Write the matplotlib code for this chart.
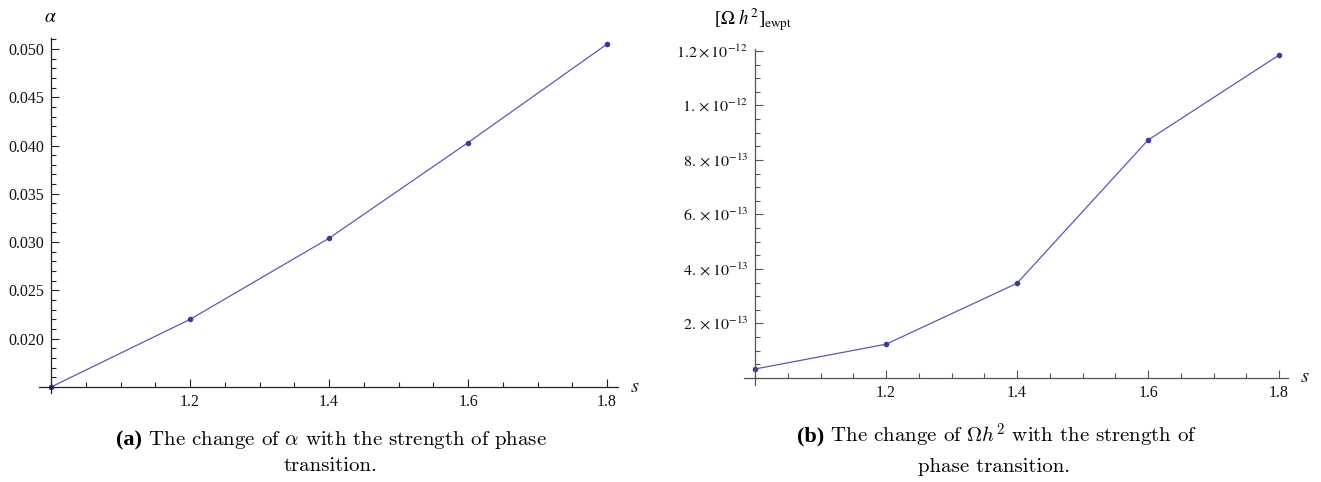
import matplotlib
matplotlib.use("Agg")
from matplotlib import pyplot as plt
from matplotlib.ticker import FixedLocator, FixedFormatter, MultipleLocator
import matplotlib.transforms as mtransforms

s = [1.0, 1.2, 1.4, 1.6, 1.8]
alpha = [0.0150, 0.0220, 0.0304, 0.0403, 0.0505]
omega_h2 = [3.3e-14, 1.24e-13, 3.475e-13, 8.73e-13, 1.185e-12]

s_ticks = [1.2, 1.4, 1.6, 1.8]
s_labels = ["1.2", "1.4", "1.6", "1.8"]
alpha_ticks = [0.020, 0.025, 0.030, 0.035, 0.040, 0.045, 0.050]
alpha_labels = ["0.020", "0.025", "0.030", "0.035", "0.040", "0.045", "0.050"]
omega_ticks = [2e-13, 4e-13, 6e-13, 8e-13, 1e-12, 1.2e-12]
omega_labels = [r"$2.\times10^{-13}$", r"$4.\times10^{-13}$", r"$6.\times10^{-13}$",
                r"$8.\times10^{-13}$", r"$1.\times10^{-12}$", r"$1.2\times10^{-12}$"]

plt.rcParams["font.family"] = "Liberation Serif"
plt.rcParams["mathtext.fontset"] = "stix"

W, H = 1321, 482
fig = plt.figure(figsize=(W / 100, H / 100), dpi=100)

line_c = "#5a5ab4"
dot_c = "#3a3a9c"


def px_axes(x0, x1, y0, y1):
    # pixel box (top-left origin) -> figure fraction
    return fig.add_axes([x0 / W, (H - y1) / H, (x1 - x0) / W, (y1 - y0) / H])


def style(ax, x0, y0, col):
    for k in ["top", "right"]:
        ax.spines[k].set_visible(False)
    ax.spines["left"].set_position(("data", x0))
    ax.spines["bottom"].set_position(("data", y0))
    for k in ["left", "bottom"]:
        ax.spines[k].set_color(col)
        ax.spines[k].set_linewidth(0.9)
    ax.patch.set_alpha(0)
    ax.tick_params(which="both", direction="in", colors=col, width=0.8, labelcolor="#111111",
                   labelsize=11.5, pad=5)
    ax.tick_params(which="major", length=6)
    ax.tick_params(which="minor", length=3.5)


# (a)
ax1 = px_axes(39, 618, 38, 393)
ax1.plot(s, alpha, "-", color=line_c, lw=0.9)
ax1.plot(s, alpha, "o", color=dot_c, ms=4, mec="none")
ax1.set_xlim(0.9827, 1.8158)
ax1.set_ylim(0.01438, 0.05113)
style(ax1, 1.0, 0.015, "#222222")
ax1.xaxis.set_major_locator(FixedLocator(s_ticks))
ax1.xaxis.set_major_formatter(FixedFormatter(s_labels))
ax1.xaxis.set_minor_locator(MultipleLocator(0.05))
ax1.yaxis.set_major_locator(FixedLocator(alpha_ticks))
ax1.yaxis.set_major_formatter(FixedFormatter(alpha_labels))
ax1.yaxis.set_minor_locator(MultipleLocator(0.001))
tr1 = mtransforms.blended_transform_factory(ax1.transAxes, ax1.transData)
ax1.annotate("$s$", xy=(1.0, 0.015), xycoords=tr1, xytext=(9, 0), textcoords="offset points",
             ha="left", va="center", fontsize=15, color="#222222")

# (b)
ax2 = px_axes(744, 1288, 49, 385)
ax2.plot(s, omega_h2, "-", color=line_c, lw=0.9)
ax2.plot(s, omega_h2, "o", color=dot_c, ms=4, mec="none")
ax2.set_xlim(0.9832, 1.8137)
ax2.set_ylim(-2.57e-14, 1.2073e-12)
style(ax2, 1.0, 0.0, "#555555")
ax2.xaxis.set_major_locator(FixedLocator(s_ticks))
ax2.xaxis.set_major_formatter(FixedFormatter(s_labels))
ax2.xaxis.set_minor_locator(MultipleLocator(0.05))
ax2.yaxis.set_major_locator(FixedLocator(omega_ticks))
ax2.yaxis.set_major_formatter(FixedFormatter(omega_labels))
ax2.yaxis.set_minor_locator(MultipleLocator(5e-14))
tr2 = mtransforms.blended_transform_factory(ax2.transAxes, ax2.transData)
ax2.annotate("$s$", xy=(1.0, 0.0), xycoords=tr2, xytext=(9, 0), textcoords="offset points",
             ha="left", va="center", fontsize=15, color="#222222")

# axis titles
fig.text(50 / W, 1 - 18 / H, r"$\alpha$", ha="center", va="center", fontsize=14)
fig.text(753 / W, 1 - 20 / H, r"[$\Omega\ h^2$]$_{\rm ewpt}$", ha="center", va="center",
         fontsize=13.5)

# captions: bold tag + roman text, centred together
renderer = fig.canvas.get_renderer()


def caption(tag, body, xc, y):
    t1 = fig.text(0, 1 - y / H, tag, ha="left", va="center", fontsize=16,
                  family="Liberation Serif", weight="bold")
    t2 = fig.text(0, 1 - y / H, body, ha="left", va="center", fontsize=15,
                  family="cmr10", math_fontfamily="cm")
    w1 = t1.get_window_extent(renderer).width
    w2 = t2.get_window_extent(renderer).width
    x0 = xc - (w1 + w2) / 2
    t1.set_x(x0 / W)
    t2.set_x((x0 + w1) / W)


cap = dict(ha="center", va="center", fontsize=15, family="cmr10", math_fontfamily="cm")
caption("(a)", r" The change of $\alpha$ with the strength of phase", 331, 440)
fig.text(330 / W, 1 - 466 / H, "transition.", **cap)
caption("(b)", r" The change of $\Omega h^2$ with the strength of", 997, 436)
fig.text(994 / W, 1 - 467 / H, "phase transition.", **cap)

fig.savefig("out.png", dpi=100)
